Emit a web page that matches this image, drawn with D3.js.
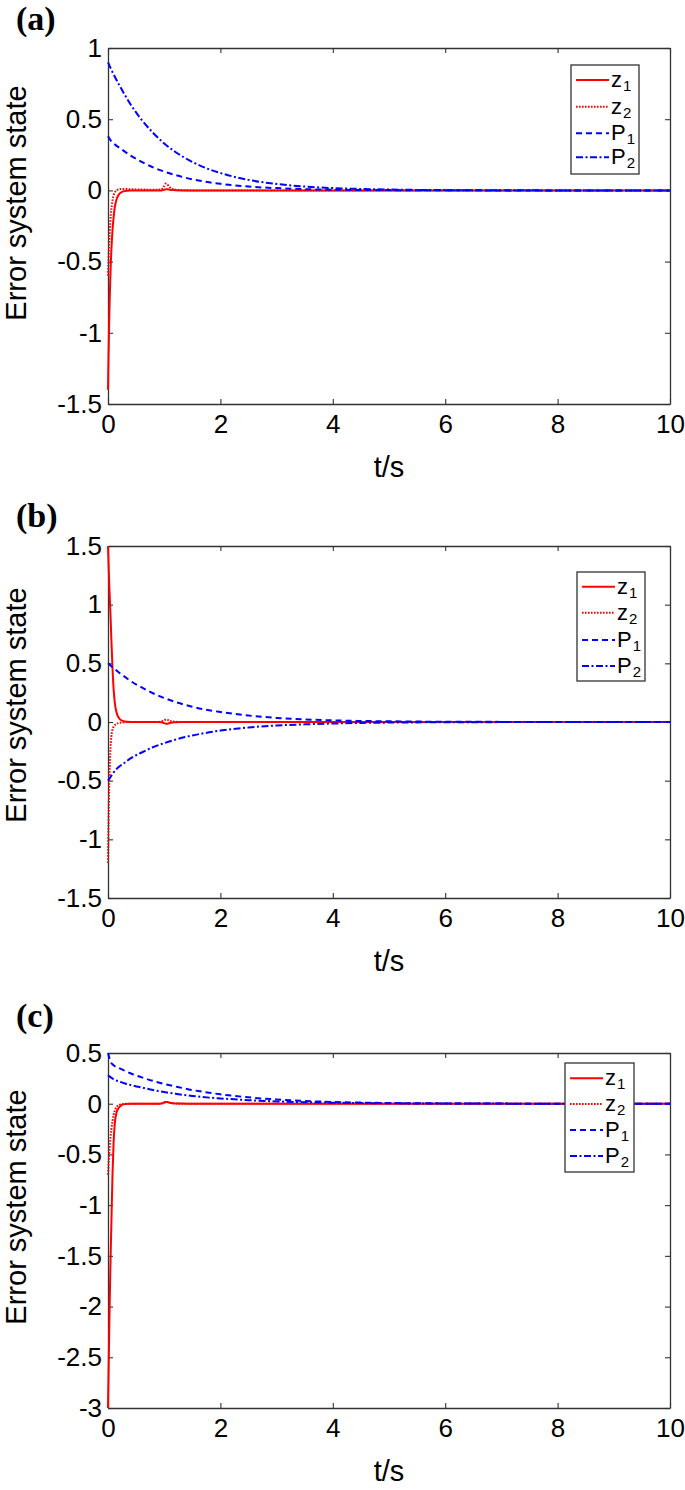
<!DOCTYPE html>
<html>
<head>
<meta charset="utf-8">
<script src="https://cdn.jsdelivr.net/npm/d3@7/dist/d3.min.js"></script>
<style>
  html, body { margin: 0; padding: 0; background: #fff; }
  svg { display: block; }
  text { font-family: "Liberation Sans", Arial, Helvetica, sans-serif; fill: #000; }
  .title { font-family: "Liberation Serif", "Times New Roman", serif; font-weight: bold; }
</style>
</head>
<body>
<svg id="chart" width="685" height="1490"></svg>
<script>
// ---------- DATA ----------
const tFast = [0,0.01,0.02,0.03,0.04,0.05,0.06,0.08,0.1,0.12,0.15,0.2,0.25,0.3,0.4,0.6,0.9,0.95,1.0,1.03,1.06,1.1,1.15,1.2,1.3,1.5,2,4,6,8,10];
const tSlow = [0,0.05,0.1,0.2,0.3,0.4,0.6,0.8,1.0,1.2,1.5,1.8,2.0,2.5,3.0,3.5,4.0,4.5,5,6,7,8,9,10];

// panel (a)
const zA1 = [-1.4,-1.15,-0.94,-0.77,-0.63,-0.51,-0.42,-0.28,-0.19,-0.12,-0.065,-0.025,-0.01,-0.004,-0.001,0,0,0,0.004,0.008,0.008,0.005,0.003,0.001,0,0,0,0,0,0,0];
const zA2 = [-0.6,-0.48,-0.38,-0.3,-0.23,-0.17,-0.13,-0.07,-0.035,-0.015,0,0.008,0.01,0.01,0.008,0.006,0.005,0.008,0.03,0.048,0.04,0.022,0.01,0.005,0.002,0,0,0,0,0,0];
const pA1 = [0.38,0.35,0.33,0.30,0.272,0.245,0.20,0.162,0.132,0.108,0.078,0.057,0.046,0.027,0.016,0.009,0.005,0.003,0.002,0.001,0,0,0,0];
const pA2 = [0.9,0.855,0.815,0.74,0.67,0.605,0.495,0.405,0.33,0.27,0.2,0.148,0.122,0.074,0.045,0.027,0.016,0.01,0.006,0.002,0.001,0,0,0];

// panel (b)
const zB1 = [1.5,1.35,1.2,1.08,0.96,0.84,0.7,0.46,0.28,0.17,0.085,0.03,0.012,0.004,0.001,0,0,-0.002,-0.01,-0.015,-0.014,-0.008,-0.004,-0.002,0,0,0,0,0,0,0];
const zB2 = [-1.2,-0.85,-0.58,-0.4,-0.27,-0.18,-0.12,-0.065,-0.04,-0.027,-0.016,-0.008,-0.004,-0.002,0,0,0,0.004,0.015,0.02,0.018,0.01,0.004,0.002,0,0,0,0,0,0,0];
const pB1 = [0.5,0.48,0.46,0.42,0.385,0.35,0.295,0.245,0.205,0.17,0.13,0.1,0.085,0.055,0.035,0.022,0.014,0.009,0.006,0.002,0.001,0,0,0];
const pB2 = [-0.5,-0.465,-0.43,-0.38,-0.345,-0.31,-0.26,-0.215,-0.18,-0.15,-0.115,-0.088,-0.073,-0.046,-0.03,-0.02,-0.013,-0.008,-0.005,-0.002,-0.001,0,0,0];

// panel (c)
const zC1 = [-3.0,-2.65,-2.3,-1.98,-1.68,-1.42,-1.18,-0.7,-0.38,-0.2,-0.09,-0.035,-0.012,-0.004,-0.001,0,0,0.002,0.012,0.018,0.016,0.01,0.005,0.003,0.001,0,0,0,0,0,0];
const zC2 = [-0.7,-0.6,-0.51,-0.43,-0.36,-0.3,-0.25,-0.17,-0.11,-0.07,-0.035,-0.012,-0.004,-0.001,0,0,0,0.002,0.012,0.018,0.016,0.01,0.005,0.002,0,0,0,0,0,0,0];
const pC1 = [0.5,0.41,0.38,0.35,0.325,0.3,0.26,0.225,0.195,0.17,0.135,0.108,0.093,0.063,0.042,0.027,0.017,0.011,0.007,0.003,0.001,0,0,0];
const pC2 = [0.28,0.26,0.24,0.22,0.2,0.185,0.16,0.135,0.115,0.098,0.077,0.06,0.052,0.035,0.023,0.015,0.01,0.006,0.004,0.002,0.001,0,0,0];

const xTicks = [0,2,4,6,8,10];
const yTicksA = [-1.5,-1,-0.5,0,0.5,1];
const yTicksB = [-1.5,-1,-0.5,0,0.5,1,1.5];
const yTicksC = [-3,-2.5,-2,-1.5,-1,-0.5,0,0.5];
const seriesNames = ["z", "z", "P", "P"];
const seriesSubs = ["1", "2", "1", "2"];
const panelLabels = ["(a)", "(b)", "(c)"];
const xLabel = "t/s";
const yLabel = "Error system state";

// ---------- STYLE / LAYOUT ----------
const styles = [
  { color: "#ff0000", dash: null, width: 2 },
  { color: "#ff0000", dash: "1.6,1.4", width: 2 },
  { color: "#0000ff", dash: "6,4", width: 2 },
  { color: "#0000ff", dash: "7,2.5,2,2.5", width: 2 }
];

const panels = [
  { label: panelLabels[0], top: 48, bottom: 404, yDomain: [-1.5, 1], yTicks: yTicksA,
    series: [zA1, zA2, pA1, pA2], yLabelY: 203, titleY: 30,
    legend: { x0: 571, x1: 639, y0: 65, y1: 174, rows: [80, 106.7, 133.3, 157.3] } },
  { label: panelLabels[1], top: 546, bottom: 898, yDomain: [-1.5, 1.5], yTicks: yTicksB,
    series: [zB1, zB2, pB1, pB2], yLabelY: 705, titleY: 527,
    legend: { x0: 577, x1: 645, y0: 572, y1: 681, rows: [586.7, 612.7, 640, 666] } },
  { label: panelLabels[2], top: 1053, bottom: 1408, yDomain: [-3, 0.5], yTicks: yTicksC,
    series: [zC1, zC2, pC1, pC2], yLabelY: 1207, titleY: 1027,
    legend: { x0: 565, x1: 634, y0: 1063, y1: 1172, rows: [1078.3, 1104, 1130, 1156] } }
];

const left = 108, right = 670;
const axisColor = "#333333";
const svg = d3.select("#chart");

panels.forEach((p, pi) => {
  const x = d3.scaleLinear().domain([0, 10]).range([left, right]);
  const y = d3.scaleLinear().domain(p.yDomain).range([p.bottom, p.top]);
  const g = svg.append("g");

  const clipId = "clip" + pi;
  svg.append("clipPath").attr("id", clipId)
    .append("rect").attr("x", left - 2).attr("y", p.top - 2)
    .attr("width", right - left + 2).attr("height", p.bottom - p.top + 4);

  // axes first (lines drawn on top, as in MATLAB)
  const tickLen = 5;
  const xAxisB = d3.axisBottom(x).tickValues(xTicks).tickSizeInner(-tickLen).tickSizeOuter(0).tickPadding(11).tickFormat(d3.format("d"));
  const xAxisT = d3.axisTop(x).tickValues(xTicks).tickSizeInner(-tickLen).tickSizeOuter(0).tickFormat("");
  const yAxisL = d3.axisLeft(y).tickValues(p.yTicks).tickSizeInner(-tickLen).tickSizeOuter(0).tickPadding(6)
    .tickFormat(d => (d === 0 ? "0" : String(d)));
  const yAxisR = d3.axisRight(y).tickValues(p.yTicks).tickSizeInner(-tickLen).tickSizeOuter(0).tickFormat("");

  const axG = [
    g.append("g").attr("transform", `translate(0,${p.bottom})`).call(xAxisB),
    g.append("g").attr("transform", `translate(0,${p.top})`).call(xAxisT),
    g.append("g").attr("transform", `translate(${left},0)`).call(yAxisL),
    g.append("g").attr("transform", `translate(${right},0)`).call(yAxisR)
  ];
  axG.forEach(a => {
    a.attr("font-family", null);
    a.select(".domain").attr("stroke", axisColor).attr("stroke-width", 1.3);
    a.selectAll(".tick line").attr("stroke", axisColor).attr("stroke-width", 1.1);
    a.selectAll(".tick text").attr("font-size", 26).attr("fill", "#000");
  });

  const lineGen = (ts) => d3.line()
    .x((d, i) => x(ts[i]))
    .y(d => y(d))
    .curve(d3.curveMonotoneX);

  const lines = g.append("g").attr("clip-path", `url(#${clipId})`);
  p.series.forEach((vals, si) => {
    const ts = si < 2 ? tFast : tSlow;
    const st = styles[si];
    lines.append("path")
      .attr("d", lineGen(ts)(vals))
      .attr("fill", "none")
      .attr("stroke", st.color)
      .attr("stroke-width", st.width)
      .attr("stroke-dasharray", st.dash)
      .attr("stroke-linejoin", "round");
  });

  g.append("text")
    .attr("x", (left + right) / 2)
    .attr("y", p.bottom + 73)
    .attr("text-anchor", "middle")
    .attr("font-size", 29)
    .text(xLabel);

  g.append("text")
    .attr("transform", `translate(26,${p.yLabelY}) rotate(-90)`)
    .attr("text-anchor", "middle")
    .attr("font-size", 29)
    .text(yLabel);

  g.append("text")
    .attr("class", "title")
    .attr("x", 16)
    .attr("y", p.titleY)
    .attr("font-size", 34)
    .text(p.label);

  const L = p.legend;
  const lg = g.append("g");
  lg.append("rect")
    .attr("x", L.x0).attr("y", L.y0)
    .attr("width", L.x1 - L.x0).attr("height", L.y1 - L.y0)
    .attr("fill", "#fff").attr("stroke", axisColor).attr("stroke-width", 1.3);
  L.rows.forEach((ry, si) => {
    const st = styles[si];
    lg.append("line")
      .attr("x1", L.x0 + 5).attr("x2", L.x0 + 38)
      .attr("y1", ry).attr("y2", ry)
      .attr("stroke", st.color).attr("stroke-width", st.width)
      .attr("stroke-dasharray", st.dash);
    const t = lg.append("text")
      .attr("x", L.x0 + 40)
      .attr("y", ry + 7)
      .attr("font-size", 22);
    t.append("tspan").text(seriesNames[si]);
    t.append("tspan").attr("dy", 4).attr("dx", 1).attr("font-size", 15).text(seriesSubs[si]);
  });
});
</script>
</body>
</html>
